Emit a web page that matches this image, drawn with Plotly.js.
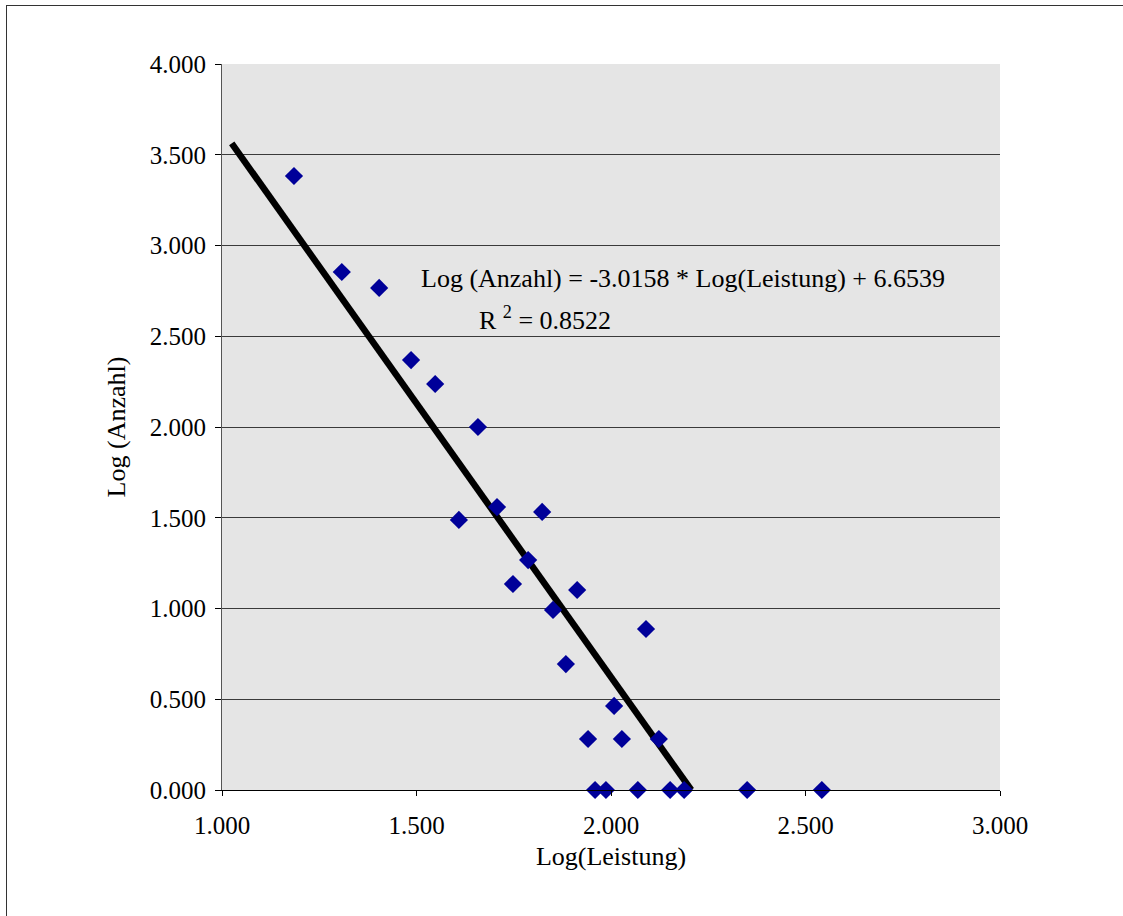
<!DOCTYPE html>
<html>
<head>
<meta charset="utf-8">
<script src="https://cdn.plot.ly/plotly-3.0.1.min.js"></script>
<style>
  html, body { margin: 0; padding: 0; background: #fff; }
  #wrap { position: relative; width: 1123px; height: 916px; overflow: hidden; }
  #frame { position: absolute; left: 6px; top: 5px; width: 1200px; height: 1000px;
           border-left: 1px solid #333; border-top: 1px solid #333; pointer-events: none; }
  #chart { position: absolute; left: 0; top: 0; width: 1123px; height: 916px; }
</style>
</head>
<body>
<div id="wrap">
  <div id="chart"></div>
  <div id="frame"></div>
</div>
<script>
// Log(Leistung) values
const logLeistung = [1.185, 1.308, 1.404, 1.486, 1.548, 1.658, 1.609, 1.707, 1.823, 1.787,
                     1.748, 1.851, 1.913, 1.884, 2.090, 2.008, 1.941, 2.028, 2.123,
                     1.959, 1.987, 2.069, 2.152, 2.188, 2.350, 2.542];
// Log(Anzahl) values
const logAnzahl = [3.383, 2.854, 2.766, 2.369, 2.237, 2.000, 1.488, 1.559, 1.532, 1.267,
                   1.135, 0.992, 1.102, 0.694, 0.887, 0.463, 0.281, 0.281, 0.281,
                   0.000, 0.000, 0.000, 0.000, 0.000, 0.000, 0.000];

// Linear trendline parameters
const trendSlope = -3.0158;
const trendIntercept = 6.6539;
const trendR2 = 0.8522;
const trendXStart = 1.025;
const trendXEnd = -trendIntercept / trendSlope;
const trendX = [trendXStart, trendXEnd];
const trendY = trendX.map(x => trendSlope * x + trendIntercept);

const xTicks = [1.0, 1.5, 2.0, 2.5, 3.0];
const yTicks = [0.0, 0.5, 1.0, 1.5, 2.0, 2.5, 3.0, 3.5, 4.0];

const font = '"Liberation Serif", "Times New Roman", serif';

const data = [
  {
    x: trendX, y: trendY, type: 'scatter', mode: 'lines',
    line: { color: '#000000', width: 6.5 }, hoverinfo: 'skip', showlegend: false, cliponaxis: false
  },
  {
    x: logLeistung, y: logAnzahl, type: 'scatter', mode: 'markers',
    marker: { symbol: 'diamond', size: 14, color: '#000099' },
    showlegend: false, cliponaxis: false
  }
];

const layout = {
  width: 1123, height: 916,
  margin: { l: 222, r: 123, t: 64, b: 126 },
  paper_bgcolor: '#ffffff',
  plot_bgcolor: '#e5e5e5',
  font: { family: font, size: 26, color: '#000' },
  showlegend: false,
  xaxis: {
    range: [1, 3], tickvals: xTicks, tickformat: '.3f',
    showgrid: false, zeroline: false,
    showline: true, linecolor: '#000', linewidth: 1,
    ticks: 'outside', ticklen: 5, tickcolor: '#000',
    ticklabelstandoff: 8,
    tickfont: { family: font, size: 25 },
    title: { text: 'Log(Leistung)', font: { family: font, size: 26 }, standoff: 8 }
  },
  yaxis: {
    range: [0, 4], tickvals: yTicks, tickformat: '.3f',
    showgrid: true, gridcolor: '#3a3a3a', gridwidth: 1,
    zeroline: false,
    showline: true, linecolor: '#555', linewidth: 1,
    ticks: 'outside', ticklen: 6, tickcolor: '#000',
    ticklabelstandoff: 4,
    tickfont: { family: font, size: 25 },
    title: { text: 'Log (Anzahl)', font: { family: font, size: 26 }, standoff: 16 }
  },
  annotations: [
    {
      x: 2.185, y: 2.82, xref: 'x', yref: 'y', showarrow: false,
      text: 'Log (Anzahl) = ' + trendSlope.toFixed(4) + ' * Log(Leistung) + ' + trendIntercept.toFixed(4),
      font: { family: font, size: 26, color: '#000' }
    },
    {
      x: 1.83, y: 2.6, xref: 'x', yref: 'y', showarrow: false,
      text: 'R <sup>2</sup> = ' + trendR2.toFixed(4),
      font: { family: font, size: 26, color: '#000' }
    }
  ]
};

Plotly.newPlot('chart', data, layout, { displayModeBar: false, staticPlot: true });
</script>
</body>
</html>
